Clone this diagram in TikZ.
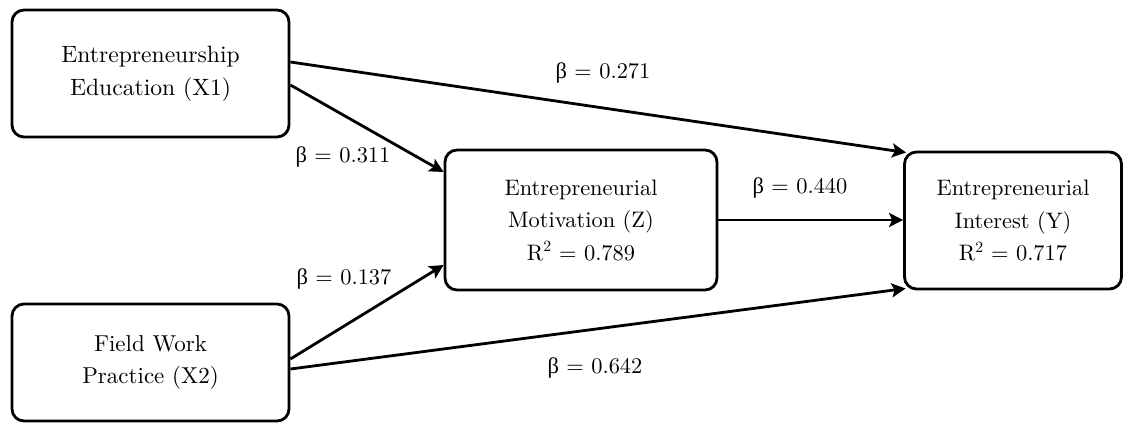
\RequirePackage{fix-cm}
\documentclass[tikz,border=0pt]{standalone}
\usepackage{fontspec}
\setmainfont{lmroman10}[Extension=.otf, UprightFont=*-regular, BoldFont=*-bold, ItalicFont=*-italic, BoldItalicFont=*-bolditalic]
\newfontfamily\grkfont{Liberation Serif}
\newcommand{\bt}{{\grkfont β}}
\usetikzlibrary{arrows.meta}
\tikzset{
  box/.style={draw, line width=2.8pt, rounded corners=12pt, align=center, inner sep=0pt,
    font=\fontsize{22.4}{32.5}\selectfont},
  lbl/.style={inner sep=1pt, font=\fontsize{22.4}{27}\selectfont},
  arr/.style={line width=2.8pt, -{Stealth[length=14pt,width=14pt,inset=3pt]}}
}
\begin{document}
\begin{tikzpicture}[x=1pt,y=-1pt]
\useasboundingbox (0,0) rectangle (1124,423);
\node[box, minimum width=277pt, minimum height=127pt, font=\fontsize{23.6}{33}\selectfont] (x1) at (150.5,73.5) {Entrepreneurship\\Education (X1)};
\node[box, minimum width=277pt, minimum height=117pt, font=\fontsize{23}{32.5}\selectfont] (x2) at (150.5,362.5) {Field Work\\Practice (X2)};
\node[box, minimum width=272pt, minimum height=140pt] (z) at (581,220) {Entrepreneurial\\Motivation (Z)\\R\textsuperscript{2} = 0.789};
\node[box, minimum width=217pt, minimum height=137pt] (y) at (1013,220.5) {Entrepreneurial\\Interest (Y)\\R\textsuperscript{2} = 0.717};
\draw[arr] ([yshift=11.5pt]x1.east) -- ([xshift=3pt,yshift=68pt]y.west);
\draw[arr] ([yshift=-11.5pt]x1.east) -- ([yshift=48pt]z.west);
\draw[arr] ([yshift=3.5pt]x2.east) -- ([yshift=-45pt]z.west);
\draw[arr] ([yshift=-6.5pt]x2.east) -- ([xshift=2.5pt,yshift=-68pt]y.west);
\draw[arr] (z.east) -- (z.east -| y.west);
\node[lbl] (l1) at (603,73) {\bt{} = 0.271};
\node[lbl] (l2) at (343,157) {\bt{} = 0.311};
\node[lbl] (l3) at (344,279) {\bt{} = 0.137};
\node[lbl] (l4) at (800,188) {\bt{} = 0.440};
\node[lbl] (l5) at (595,368) {\bt{} = 0.642};
\end{tikzpicture}
\end{document}
